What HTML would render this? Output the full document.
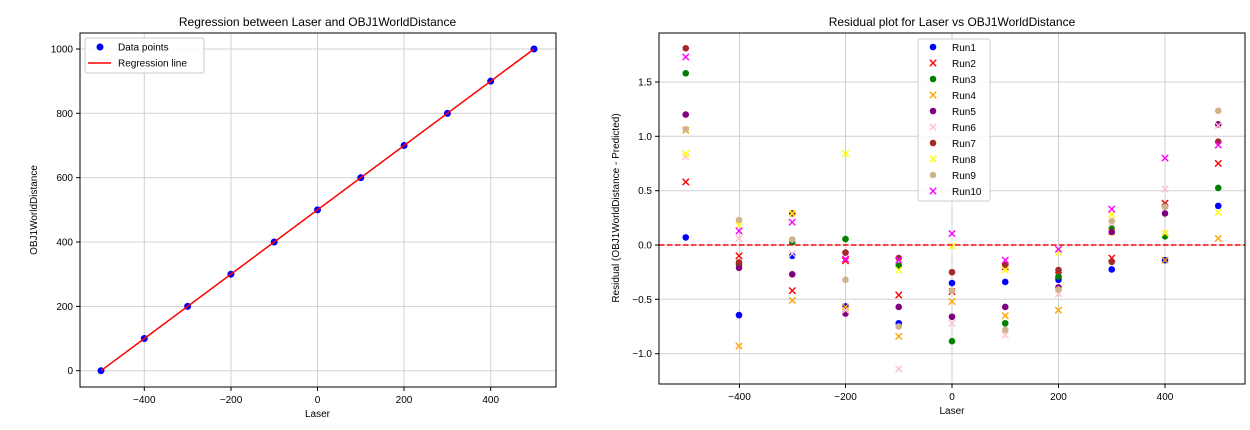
<!DOCTYPE html>
<html><head><meta charset="utf-8"><style>
html,body{margin:0;padding:0;background:#fff;}
svg{display:block;font-family:"Liberation Sans","DejaVu Sans",sans-serif;}
</style></head><body>
<svg id="s" width="1250" height="430" viewBox="0 0 1250 430">
<rect width="1250" height="430" fill="#fff"/>
<!-- LEFT -->
<g stroke="#d0d0d0" stroke-width="1">
<line x1="144.3" y1="33" x2="144.3" y2="387"/><line x1="231" y1="33" x2="231" y2="387"/><line x1="317.5" y1="33" x2="317.5" y2="387"/><line x1="404" y1="33" x2="404" y2="387"/><line x1="490.7" y1="33" x2="490.7" y2="387"/>
<line x1="80" y1="370.7" x2="556" y2="370.7"/><line x1="80" y1="306.4" x2="556" y2="306.4"/><line x1="80" y1="242" x2="556" y2="242"/><line x1="80" y1="177.7" x2="556" y2="177.7"/><line x1="80" y1="113.3" x2="556" y2="113.3"/><line x1="80" y1="49" x2="556" y2="49"/>
</g>
<g id="lpts" fill="#0000ff"></g>
<line x1="101" y1="370.7" x2="534" y2="49" stroke="#ff0000" stroke-width="1.5"/>
<rect x="80" y="33" width="476" height="354" fill="none" stroke="#000" stroke-width="1"/>
<g stroke="#000"><line x1="144.3" y1="387" x2="144.3" y2="391"/><line x1="231" y1="387" x2="231" y2="391"/><line x1="317.5" y1="387" x2="317.5" y2="391"/><line x1="404" y1="387" x2="404" y2="391"/><line x1="490.7" y1="387" x2="490.7" y2="391"/>
<line x1="76" y1="370.7" x2="80" y2="370.7"/><line x1="76" y1="306.4" x2="80" y2="306.4"/><line x1="76" y1="242" x2="80" y2="242"/><line x1="76" y1="177.7" x2="80" y2="177.7"/><line x1="76" y1="113.3" x2="80" y2="113.3"/><line x1="76" y1="49" x2="80" y2="49"/></g>
<g font-size="10" fill="#000" text-anchor="middle">
<text x="144.3" y="403">−400</text><text x="231" y="403">−200</text><text x="317.5" y="403">0</text><text x="404" y="403">200</text><text x="490.7" y="403">400</text>
<text x="317.5" y="417">Laser</text>
<text x="317.5" y="26" font-size="12">Regression between Laser and OBJ1WorldDistance</text>
<text transform="translate(37,210) rotate(-90)">OBJ1WorldDistance</text>
</g>
<g font-size="10" fill="#000" text-anchor="end">
<text x="73" y="374.2">0</text><text x="73" y="309.9">200</text><text x="73" y="245.5">400</text><text x="73" y="181.2">600</text><text x="73" y="116.8">800</text><text x="73" y="52.5">1000</text>
</g>
<rect x="85" y="38" width="119" height="35" rx="2" fill="#fff" fill-opacity="0.85" stroke="#ccc"/>
<circle cx="100" cy="47" r="3.5" fill="#0000ff"/>
<line x1="88" y1="63" x2="111" y2="63" stroke="#ff0000" stroke-width="1.5"/>
<text x="118" y="50.5" font-size="10">Data points</text>
<text x="118" y="66.5" font-size="10">Regression line</text>

<!-- RIGHT -->
<g stroke="#d0d0d0" stroke-width="1">
<line x1="739.5" y1="33" x2="739.5" y2="384"/><line x1="845.5" y1="33" x2="845.5" y2="384"/><line x1="952" y1="33" x2="952" y2="384"/><line x1="1058.5" y1="33" x2="1058.5" y2="384"/><line x1="1165" y1="33" x2="1165" y2="384"/>
<line x1="659" y1="82" x2="1245" y2="82"/><line x1="659" y1="136.3" x2="1245" y2="136.3"/><line x1="659" y1="190.7" x2="1245" y2="190.7"/><line x1="659" y1="245" x2="1245" y2="245"/><line x1="659" y1="299.3" x2="1245" y2="299.3"/><line x1="659" y1="353.7" x2="1245" y2="353.7"/>
</g>
<g id="rpts"></g>
<line x1="659" y1="245" x2="1245" y2="245" stroke="#ff0000" stroke-width="1.5" stroke-dasharray="5.5,2.5"/>
<rect x="659" y="33" width="586" height="351" fill="none" stroke="#000" stroke-width="1"/>
<g stroke="#000"><line x1="739.5" y1="384" x2="739.5" y2="388"/><line x1="845.5" y1="384" x2="845.5" y2="388"/><line x1="952" y1="384" x2="952" y2="388"/><line x1="1058.5" y1="384" x2="1058.5" y2="388"/><line x1="1165" y1="384" x2="1165" y2="388"/>
<line x1="655" y1="82" x2="659" y2="82"/><line x1="655" y1="136.3" x2="659" y2="136.3"/><line x1="655" y1="190.7" x2="659" y2="190.7"/><line x1="655" y1="245" x2="659" y2="245"/><line x1="655" y1="299.3" x2="659" y2="299.3"/><line x1="655" y1="353.7" x2="659" y2="353.7"/></g>
<g font-size="10" fill="#000" text-anchor="middle">
<text x="739.5" y="400">−400</text><text x="845.5" y="400">−200</text><text x="952" y="400">0</text><text x="1058.5" y="400">200</text><text x="1165" y="400">400</text>
<text x="952" y="414">Laser</text>
<text x="952" y="26" font-size="12">Residual plot for Laser vs OBJ1WorldDistance</text>
<text transform="translate(619,208) rotate(-90)">Residual (OBJ1WorldDistance - Predicted)</text>
</g>
<g font-size="10" fill="#000" text-anchor="end">
<text x="652" y="85.5">1.5</text><text x="652" y="139.8">1.0</text><text x="652" y="194.2">0.5</text><text x="652" y="248.5">0.0</text><text x="652" y="302.8">−0.5</text><text x="652" y="357.2">−1.0</text>
</g>
<rect x="918" y="39" width="72" height="162" rx="2" fill="#fff" fill-opacity="0.85" stroke="#ccc"/>
<g id="leg"></g>
<g font-size="10" fill="#000">
<text x="952" y="51">Run1</text><text x="952" y="67">Run2</text><text x="952" y="83">Run3</text><text x="952" y="99">Run4</text><text x="952" y="115">Run5</text><text x="952" y="131">Run6</text><text x="952" y="147">Run7</text><text x="952" y="163">Run8</text><text x="952" y="179">Run9</text><text x="952" y="195">Run10</text>
</g>
</svg>
<script>
var NS="http://www.w3.org/2000/svg";
function el(p,t,a){var e=document.createElementNS(NS,t);for(var k in a)e.setAttribute(k,a[k]);p.appendChild(e);return e;}
var lp=document.getElementById("lpts");
for(var i=0;i<=10;i++){var x=-500+100*i,y=100*i;el(lp,"circle",{cx:317.5+0.433*x,cy:370.7-0.3217*y,r:3.5});}
var cols=["#0000ff","#ff0000","#008000","#ffa500","#800080","#ffc0cb","#a52a2a","#ffff00","#d2b48c","#ff00ff"];
var mk=["o","x","o","x","o","x","o","x","o","x"];
var xs=[-500,-400,-300,-200,-100,0,100,200,300,400,500];
var D=[
[0.07,-0.645,-0.10,-0.565,-0.72,-0.35,-0.34,-0.32,-0.225,-0.14,0.36],
[0.58,-0.10,-0.42,-0.145,-0.46,-0.43,-0.20,-0.28,-0.12,0.385,0.75],
[1.58,-0.18,0.025,0.055,-0.19,-0.885,-0.72,-0.29,0.15,0.08,0.525],
[1.055,-0.93,-0.51,-0.57,-0.84,-0.52,-0.65,-0.60,0.12,-0.14,0.06],
[1.20,-0.21,-0.27,-0.63,-0.57,-0.66,-0.57,-0.39,0.12,0.29,1.11],
[0.81,0.06,-0.08,-0.60,-1.14,-0.72,-0.83,-0.45,0.20,0.515,1.10],
[1.81,-0.16,0.29,-0.07,-0.12,-0.25,-0.185,-0.23,-0.155,0.36,0.95],
[0.84,0.18,0.29,0.84,-0.23,-0.01,-0.23,-0.07,0.28,0.11,0.30],
[1.065,0.23,0.05,-0.32,-0.75,-0.42,-0.78,-0.41,0.22,0.35,1.235],
[1.73,0.13,0.21,-0.13,-0.14,0.105,-0.14,-0.04,0.33,0.80,0.92]];
var rp=document.getElementById("rpts"),lg=document.getElementById("leg");
function mark(p,c,m,x,y){
 if(m=="o")el(p,"circle",{cx:x,cy:y,r:3.3,fill:c});
 else{var s=3.2;el(p,"path",{d:"M"+(x-s)+" "+(y-s)+"L"+(x+s)+" "+(y+s)+"M"+(x-s)+" "+(y+s)+"L"+(x+s)+" "+(y-s),stroke:c,"stroke-width":1.4,fill:"none"});}
}
for(var r=0;r<10;r++){
 for(var j=0;j<11;j++)mark(rp,cols[r],mk[r],952+0.5325*xs[j],245-108.7*D[r][j]);
 mark(lg,cols[r],mk[r],933,47+16*r);
}
</script>
</body></html>
